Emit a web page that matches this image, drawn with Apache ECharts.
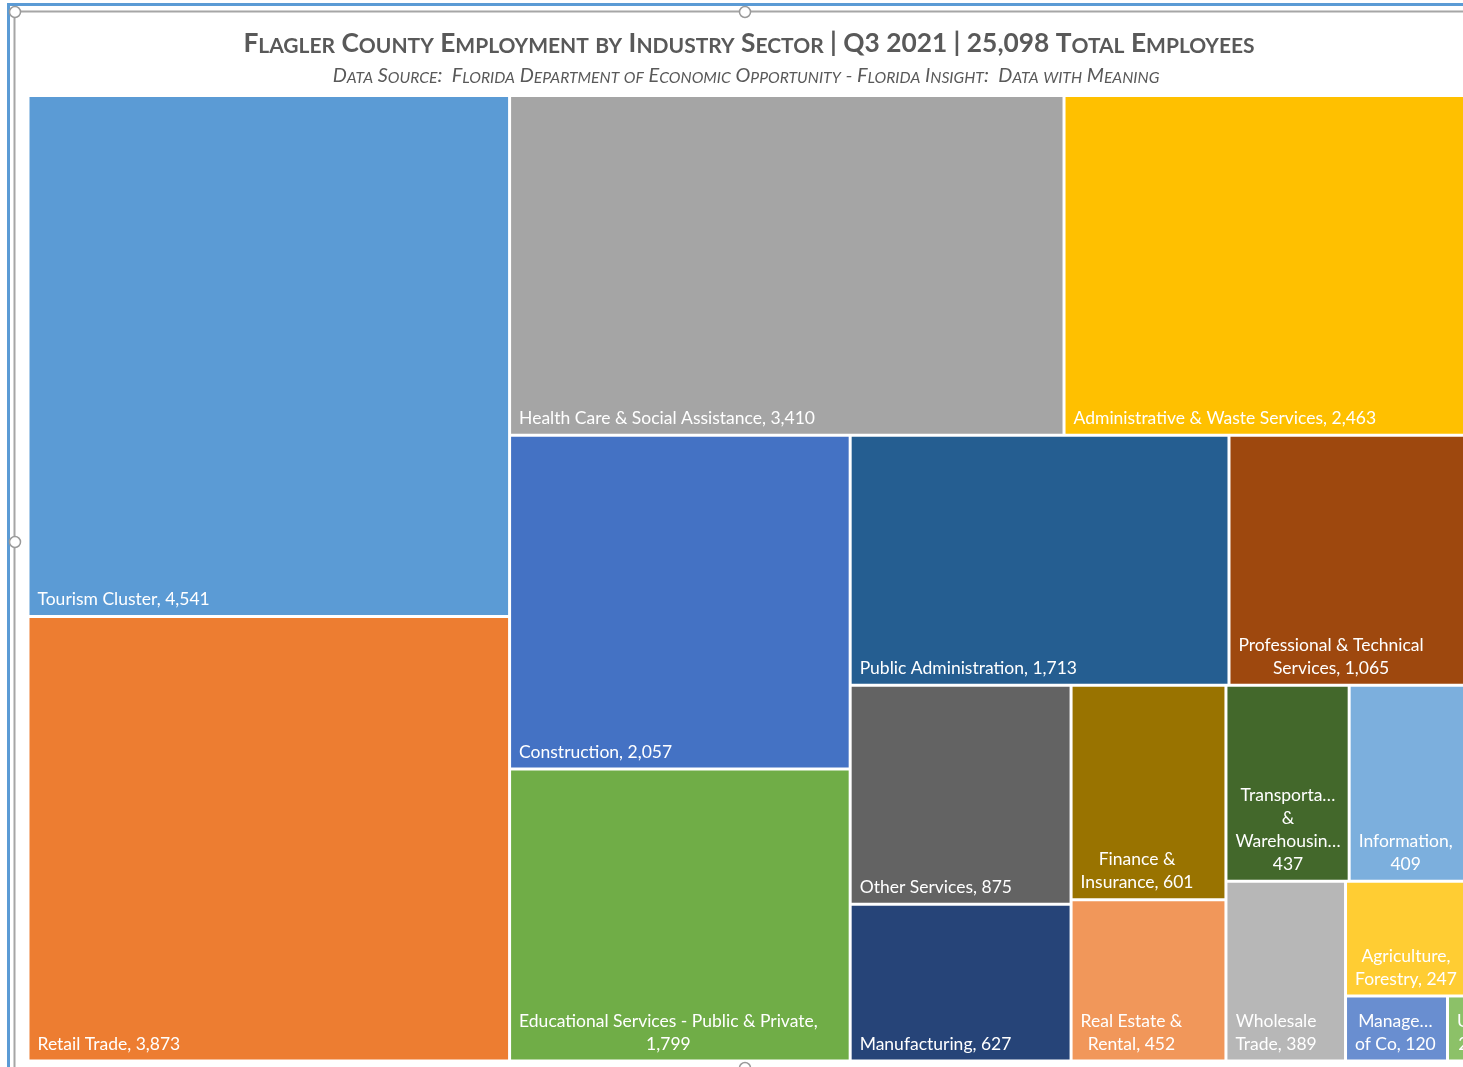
<!DOCTYPE html>
<html>
<head>
<meta charset="utf-8">
<script src="https://cdn.jsdelivr.net/npm/echarts@6/dist/echarts.min.js"></script>
<style>
html,body{margin:0;padding:0;background:#fff;}
#chart{width:1463px;height:1067px;}
</style>
</head>
<body>
<div id="chart"></div>
<script>
// ---- data ----
const sectors = [
  'Tourism Cluster', 'Retail Trade', 'Health Care & Social Assistance',
  'Administrative & Waste Services', 'Construction',
  'Educational Services - Public & Private', 'Public Administration',
  'Professional & Technical Services', 'Other Services', 'Manufacturing',
  'Finance & Insurance', 'Real Estate & Rental', 'Transportation & Warehousing',
  'Information', 'Wholesale Trade', 'Agriculture, Forestry',
  'Management of Co', 'Utilities'
];
const employees = [4541, 3873, 3410, 2463, 2057, 1799, 1713, 1065, 875, 627, 601, 452, 437, 409, 389, 247, 120, 20];
// how each cell label is displayed (wrapping / truncation as in the original)
const labelTexts = [
  'Tourism Cluster, {v}', 'Retail Trade, {v}', 'Health Care & Social Assistance, {v}',
  'Administrative & Waste Services, {v}', 'Construction, {v}',
  'Educational Services - Public & Private,\n{v}', 'Public Administration, {v}',
  'Professional & Technical\nServices, {v}', 'Other Services, {v}', 'Manufacturing, {v}',
  'Finance &\nInsurance, {v}', 'Real Estate &\nRental, {v}', 'Transporta\u2026\n&\nWarehousin\u2026\n{v}',
  'Information,\n{v}', 'Wholesale\nTrade, {v}', 'Agriculture,\nForestry, {v}',
  'Manage\u2026\nof Co, {v}', 'U\u2026\n{v1}'
];
const palette = [
  '#5B9BD5', '#ED7D31', '#A5A5A5', '#FFC000', '#4472C4', '#70AD47', '#255E91',
  '#9E480E', '#636363', '#264478', '#997300', '#F1975A', '#43682B', '#7CAFDD',
  '#B7B7B7', '#FFCD33', '#698ED0', '#8CC168'
];
const titleText = 'Flagler County Employment by Industry Sector | Q3 2021 | 25,098 Total Employees';
const subtitleText = 'Data Source:  Florida Department of Economic Opportunity - Florida Insight:  Data with Meaning';

// ---- helpers ----
const LABEL_FONT = 'Lato';
const LABEL_SIZE = 17.5;
const PAD = 8;
const canvas = document.createElement('canvas');
const ctx = canvas.getContext('2d');
ctx.font = LABEL_SIZE + 'px ' + LABEL_FONT;

function fmt(n) { return n.toLocaleString('en-US'); }

function smallCaps(str, bigKey, smallKey) {
  let out = '', i = 0;
  while (i < str.length) {
    const low = str[i] !== str[i].toUpperCase();
    let j = i;
    while (j < str.length && ((str[j] !== str[j].toUpperCase()) === low)) j++;
    const seg = str.slice(i, j);
    out += '{' + (low ? smallKey : bigKey) + '|' + (low ? seg.toUpperCase() : seg) + '}';
    i = j;
  }
  return out;
}

const data = sectors.map(function (name, i) {
  const v = fmt(employees[i]);
  const text = labelTexts[i].replace('{v1}', v.charAt(0) + '\u2026').replace('{v}', v);
  const lines = text.split('\n');
  const blockW = Math.max.apply(null, lines.map(function (l) { return ctx.measureText(l).width; }));
  return {
    name: name,
    value: employees[i],
    itemStyle: { color: palette[i] },
    label: {
      formatter: function () { return text; },
      position: [PAD + blockW / 2, '100%'],
      align: 'center',
      verticalAlign: 'bottom',
      offset: [0, -4],
      overflow: i === sectors.length - 1 ? 'none' : 'truncate'
    }
  };
});

const bigT = 26.3, smallT = 21, bigS = 19.9, smallS = 15.7;
const chart = echarts.init(document.getElementById('chart'), null, { renderer: 'canvas' });
chart.setOption({
  animation: false,
  backgroundColor: '#fff',
  graphic: [
    { type: 'rect', shape: { x: 7, y: 3, width: 1460, height: 3 }, style: { fill: '#5B9BD5' }, z: 10 },
    { type: 'rect', shape: { x: 7, y: 3, width: 3, height: 1070 }, style: { fill: '#5B9BD5' }, z: 10 },
    { type: 'line', shape: { x1: 15, y1: 11.5, x2: 1463, y2: 11.5 }, style: { stroke: '#A6A6A6', lineWidth: 2 }, z: 10 },
    { type: 'line', shape: { x1: 14.5, y1: 12, x2: 14.5, y2: 1067 }, style: { stroke: '#A6A6A6', lineWidth: 2 }, z: 10 },
    { type: 'circle', shape: { cx: 15, cy: 12, r: 5.5 }, style: { fill: '#fff', stroke: '#9A9A9A', lineWidth: 1.5 }, z: 11 },
    { type: 'circle', shape: { cx: 745, cy: 12, r: 5.5 }, style: { fill: '#fff', stroke: '#9A9A9A', lineWidth: 1.5 }, z: 11 },
    { type: 'circle', shape: { cx: 15, cy: 542, r: 5.5 }, style: { fill: '#fff', stroke: '#9A9A9A', lineWidth: 1.5 }, z: 11 },
    { type: 'circle', shape: { cx: 745, cy: 1068, r: 5.5 }, style: { fill: '#fff', stroke: '#9A9A9A', lineWidth: 1.5 }, z: 11 },
    {
      type: 'text', x: 749, y: 37, z: 10,
      style: {
        text: smallCaps(titleText, 'b', 's'),
        align: 'center', verticalAlign: 'top',
        rich: {
          b: { fontFamily: 'Lato', fontWeight: 'bold', fontSize: bigT, fill: '#595959', verticalAlign: 'bottom', lineHeight: Math.round(bigT * 0.774) },
          s: { fontFamily: 'Lato', fontWeight: 'bold', fontSize: smallT, fill: '#595959', verticalAlign: 'bottom', lineHeight: Math.round(smallT * 0.774) }
        }
      }
    },
    {
      type: 'text', x: 746, y: 71, z: 10,
      style: {
        text: smallCaps(subtitleText, 'b', 's'),
        align: 'center', verticalAlign: 'top',
        rich: {
          b: { fontFamily: 'Lato', fontStyle: 'italic', fontSize: bigS, fill: '#595959', verticalAlign: 'bottom', lineHeight: Math.round(bigS * 0.774) },
          s: { fontFamily: 'Lato', fontStyle: 'italic', fontSize: smallS, fill: '#595959', verticalAlign: 'bottom', lineHeight: Math.round(smallS * 0.774) }
        }
      }
    }
  ],
  series: [{
    type: 'treemap',
    left: 29.5, top: 97, width: 1433.5, height: 962.5,
    roam: false,
    nodeClick: false,
    breadcrumb: { show: false },
    squareRatio: 1,
    sort: 'desc',
    visibleMin: 0,
    label: {
      show: true,
      color: '#fff',
      fontFamily: LABEL_FONT,
      fontSize: LABEL_SIZE,
      lineHeight: 23,
      padding: 0,
      distance: 0
    },
    itemStyle: { borderWidth: 0, gapWidth: 3, borderColor: '#fff' },
    levels: [{ itemStyle: { borderWidth: 0, gapWidth: 3, borderColor: '#fff' } }],
    data: data
  }]
});
</script>
</body>
</html>
